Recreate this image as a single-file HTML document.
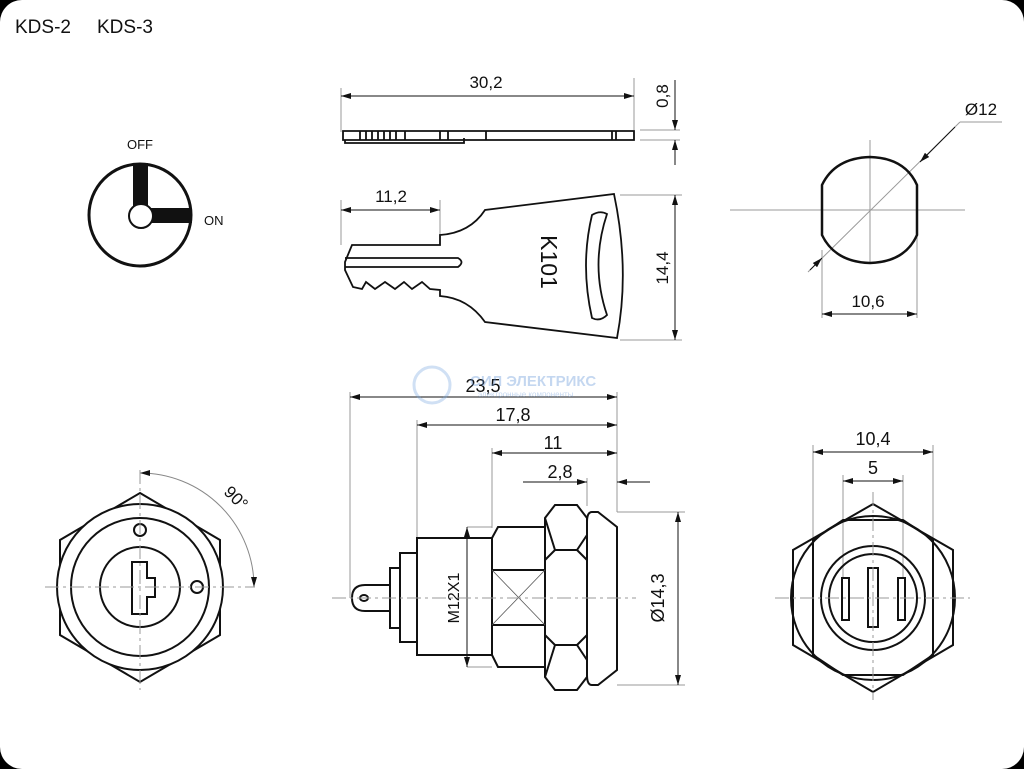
<!DOCTYPE html>
<html><head><meta charset="utf-8"><style>
html,body{margin:0;padding:0;background:#000;}
.wrap{width:1024px;height:769px;position:relative;overflow:hidden;background:#000;}
svg{position:absolute;left:0;top:0;}
text{font-family:"Liberation Sans",sans-serif;fill:#111;}
</style></head><body><div class="wrap">
<svg width="1024" height="769" viewBox="0 0 1024 769">
<defs>
<marker id="a" viewBox="0 0 10 6" refX="10" refY="3" markerWidth="12" markerHeight="6" markerUnits="userSpaceOnUse" orient="auto-start-reverse"><path d="M0,0L10,3L0,6z" fill="#111"/></marker>
</defs>
<rect x="0" y="0" width="1024" height="769" rx="22" fill="#fff"/>
<text x="15" y="33" font-size="19">KDS-2</text>
<text x="97" y="33" font-size="19">KDS-3</text>
<!-- switch symbol -->
<text x="127" y="149" font-size="13">OFF</text>
<text x="204" y="225" font-size="13">ON</text>
<circle cx="140" cy="215" r="51" fill="none" stroke="#111" stroke-width="3"/>
<rect x="133" y="163" width="15" height="45" fill="#111"/>
<rect x="140" y="208" width="52" height="15" fill="#111"/>
<circle cx="141" cy="216" r="12" fill="#fff" stroke="#111" stroke-width="2"/>

<!-- key side view -->
<g stroke="#999" stroke-width="1" fill="none">
<line x1="341" y1="88" x2="341" y2="132"/><line x1="634" y1="78" x2="634" y2="130"/>
<line x1="640" y1="130" x2="680" y2="130"/><line x1="640" y1="140" x2="680" y2="140"/>
<line x1="341" y1="200" x2="341" y2="245"/><line x1="440" y1="200" x2="440" y2="235"/>
<line x1="620" y1="195" x2="682" y2="195"/><line x1="620" y1="340" x2="682" y2="340"/>
</g>
<g stroke="#111" stroke-width="1" fill="none">
<line x1="341" y1="96" x2="634" y2="96" marker-start="url(#a)" marker-end="url(#a)"/>
<line x1="675" y1="80" x2="675" y2="130" marker-end="url(#a)"/>
<line x1="675" y1="165" x2="675" y2="140" marker-end="url(#a)"/>
<line x1="341" y1="210" x2="440" y2="210" marker-start="url(#a)" marker-end="url(#a)"/>
<line x1="675" y1="195" x2="675" y2="340" marker-start="url(#a)" marker-end="url(#a)"/>
</g>
<text x="486" y="88" font-size="17" text-anchor="middle">30,2</text>
<text transform="translate(668,96) rotate(-90)" font-size="17" text-anchor="middle">0,8</text>
<text x="391" y="202" font-size="17" text-anchor="middle">11,2</text>
<text transform="translate(668,268) rotate(-90)" font-size="17" text-anchor="middle">14,4</text>
<g stroke="#111" stroke-width="1.8" fill="none">
<path d="M343,131 L634,131 L634,140 L343,140 Z"/>
<path d="M345,140 L345,143 L464,143 L464,138"/>
<path d="M360,131v9M366,131v9M372,131v9M378,131v9M384,131v9M390,131v9M396,131v9M405,131v9M440,131v9M448,131v9M486,131v9M612,131v9M616,131v9"/>
<path d="M345,262 L352,245 L440,245 L440,235 Q470,233 485,210 L614,194 Q630,270 617,338 L485,322 Q468,298 440,296 L440,290 L430,289 L422,282 L412,289 L404,282 L395,289 L385,282 L375,289 L366,282 L362,289 L353,287 L345,270 Z"/>
<path d="M345,258 L458,258 Q465,262 458,267 L345,267"/>
<path d="M592,215 Q600,210 607,214 Q590,265 607,315 Q600,322 592,318 Q580,265 592,215 Z"/>
</g>
<text transform="translate(541,262) rotate(90)" font-size="23" text-anchor="middle" fill="#222">K101</text>

<!-- top right round view -->
<g stroke="#999" stroke-width="1" fill="none">
<line x1="730" y1="210" x2="965" y2="210"/>
<line x1="870" y1="140" x2="870" y2="264"/>
<line x1="808" y1="272" x2="960" y2="122"/><line x1="960" y1="122" x2="1002" y2="122"/>
<line x1="822" y1="250" x2="822" y2="318"/><line x1="917" y1="210" x2="917" y2="318"/>
</g>
<path d="M822,185 Q835,158 870,157 Q905,158 917,185 L917,235 Q905,262 870,263 Q835,262 822,235 Z" fill="none" stroke="#111" stroke-width="2.5"/>
<g stroke="#111" stroke-width="1" fill="none">
<line x1="955" y1="127" x2="920" y2="162" marker-end="url(#a)"/>
<line x1="810" y1="270" x2="822" y2="258" marker-end="url(#a)"/>
<line x1="822" y1="314" x2="917" y2="314" marker-start="url(#a)" marker-end="url(#a)"/>
</g>
<text x="981" y="115" font-size="17" text-anchor="middle">Ø12</text>
<text x="868" y="307" font-size="17" text-anchor="middle">10,6</text>

<!-- bottom-left front view -->
<path d="M140,473 A114,114 0 0 1 254,587" fill="none" stroke="#888" stroke-width="1" marker-start="url(#a)" marker-end="url(#a)"/>
<text transform="translate(232,502) rotate(45)" font-size="17" text-anchor="middle">90°</text>
<g stroke="#111" stroke-width="2" fill="none">
<path d="M140,493 L220,540 L220,635 L140,682 L60,635 L60,540 Z"/>
<circle cx="140" cy="587" r="83" fill="#fff"/>
<circle cx="140" cy="587" r="69"/>
<circle cx="140" cy="587" r="40"/>
<circle cx="140" cy="530" r="6"/>
<circle cx="197" cy="587" r="6"/>
<path d="M132,562 L147,562 L147,578 L155,578 L155,597 L147,597 L147,614 L132,614 Z"/>
</g>
<g stroke="#999" stroke-width="1" fill="none" stroke-dasharray="14,4,3,4">
<line x1="45" y1="587" x2="255" y2="587"/>
<line x1="140" y1="470" x2="140" y2="690"/>
</g>

<!-- middle side view -->
<g stroke="#999" stroke-width="1" fill="none">
<line x1="350" y1="392" x2="350" y2="598"/>
<line x1="417" y1="420" x2="417" y2="540"/>
<line x1="492" y1="448" x2="492" y2="528"/>
<line x1="587" y1="478" x2="587" y2="506"/>
<line x1="617" y1="392" x2="617" y2="512"/>
<line x1="617" y1="512" x2="685" y2="512"/><line x1="617" y1="685" x2="685" y2="685"/>
<line x1="467" y1="527" x2="492" y2="527"/><line x1="467" y1="667" x2="492" y2="667"/>
</g>
<g stroke="#111" stroke-width="1" fill="none">
<line x1="350" y1="397" x2="617" y2="397" marker-start="url(#a)" marker-end="url(#a)"/>
<line x1="417" y1="425" x2="617" y2="425" marker-start="url(#a)" marker-end="url(#a)"/>
<line x1="492" y1="453" x2="617" y2="453" marker-start="url(#a)" marker-end="url(#a)"/>
<line x1="523" y1="482" x2="587" y2="482" marker-end="url(#a)"/>
<line x1="650" y1="482" x2="617" y2="482" marker-end="url(#a)"/>
<line x1="678" y1="512" x2="678" y2="685" marker-start="url(#a)" marker-end="url(#a)"/>
<line x1="467" y1="527" x2="467" y2="667" marker-start="url(#a)" marker-end="url(#a)"/>
</g>
<text x="483" y="392" font-size="18" text-anchor="middle">23,5</text>
<text x="513" y="421" font-size="18" text-anchor="middle">17,8</text>
<text x="553" y="449" font-size="18" text-anchor="middle">11</text>
<text x="560" y="478" font-size="18" text-anchor="middle">2,8</text>
<text transform="translate(664,598) rotate(-90)" font-size="18" text-anchor="middle">Ø14,3</text>
<text transform="translate(459,598) rotate(-90)" font-size="16" text-anchor="middle">M12X1</text>
<g stroke="#111" stroke-width="2" fill="none">
<path d="M390,585 L365,585 Q352,585 352,598 Q352,611 365,611 L390,611"/>
<ellipse cx="364" cy="598" rx="4" ry="3"/>
<rect x="390" y="568" width="10" height="60"/>
<rect x="400" y="553" width="17" height="89"/>
<rect x="417" y="538" width="75" height="117"/>
<path d="M492,538 L498,527 L545,527 L545,667 L498,667 L492,655 Z"/>
<line x1="492" y1="570" x2="545" y2="570"/><line x1="492" y1="625" x2="545" y2="625"/>
<path d="M555,505 L577,505 L587,518 L587,677 L577,690 L555,690 L545,677 L545,518 Z"/>
<path d="M545,518 L555,550 L577,550 L587,535"/>
<path d="M545,677 L555,645 L577,645 L587,660"/>
<path d="M545,560 L555,550 M587,560 L577,550 M545,635 L555,645 M587,635 L577,645"/>
<path d="M592,512 L598,512 L617,527 L617,670 L598,685 L592,685 Q587,685 587,675 L587,522 Q587,512 592,512 Z"/>
</g>
<g stroke="#555" stroke-width="0.8"><line x1="492" y1="570" x2="545" y2="625"/><line x1="545" y1="570" x2="492" y2="625"/></g>
<g stroke="#999" stroke-width="1" fill="none" stroke-dasharray="14,4,3,4">
<line x1="332" y1="598" x2="636" y2="598"/>
</g>
<g opacity="0.35">
<circle cx="432" cy="385" r="18" fill="none" stroke="#7aa8e0" stroke-width="3"/>
<text x="470" y="386" font-size="15" font-weight="bold" style="fill:#5a8fd6">СИЛ ЭЛЕКТРИКС</text>
<text x="478" y="397" font-size="8" style="fill:#5a8fd6">электронные компоненты</text>
</g>

<!-- bottom-right rear view -->
<g stroke="#999" stroke-width="1" fill="none">
<line x1="813" y1="445" x2="813" y2="560"/><line x1="933" y1="445" x2="933" y2="560"/>
<line x1="843" y1="475" x2="843" y2="578"/><line x1="903" y1="475" x2="903" y2="578"/>
</g>
<g stroke="#111" stroke-width="1" fill="none">
<line x1="813" y1="452" x2="933" y2="452" marker-start="url(#a)" marker-end="url(#a)"/>
<line x1="843" y1="481" x2="903" y2="481" marker-start="url(#a)" marker-end="url(#a)"/>
</g>
<text x="873" y="445" font-size="18" text-anchor="middle">10,4</text>
<text x="873" y="474" font-size="18" text-anchor="middle">5</text>
<g stroke="#111" stroke-width="2" fill="none">
<path d="M873,504 L953,550 L953,645 L873,692 L793,645 L793,550 Z"/>
<circle cx="873" cy="598" r="82"/>
<path d="M813,540 L843,520 L903,520 L933,540 L933,655 L903,675 L843,675 L813,655 Z"/>
<circle cx="873" cy="598" r="52"/>
<circle cx="873" cy="598" r="44"/>
<rect x="842" y="578" width="7" height="42"/>
<rect x="868" y="568" width="10" height="59"/>
<rect x="898" y="578" width="7" height="42"/>
</g>
<g stroke="#999" stroke-width="1" fill="none" stroke-dasharray="14,4,3,4">
<line x1="775" y1="598" x2="970" y2="598"/>
<line x1="873" y1="492" x2="873" y2="700"/>
</g>
</svg>
</div></body></html>
